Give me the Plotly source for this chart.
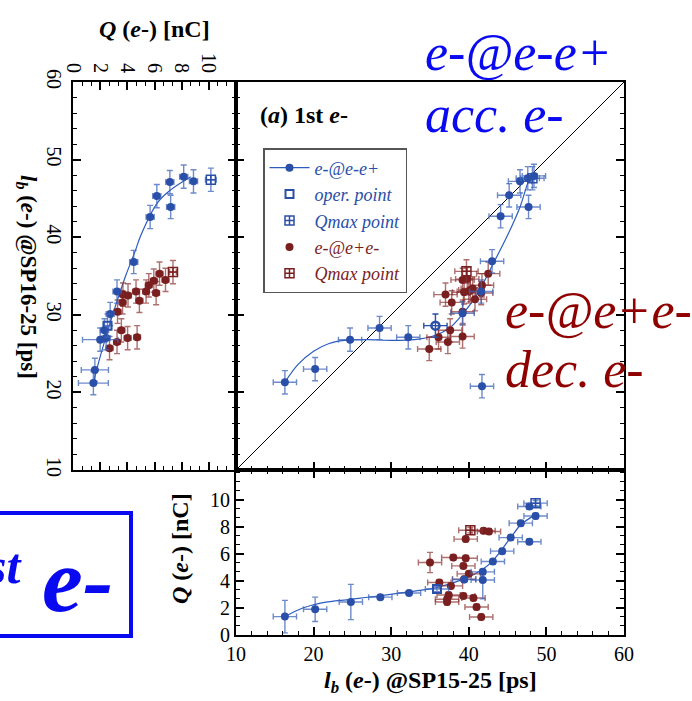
import plotly.graph_objects as go
import numpy as np

W, H = 692, 701
SERIF = "Liberation Serif"
BLUE = "#2a4fa8"
BLUE_ERR = "rgba(60,100,185,0.75)"
RED = "#7a1f1f"
RED_ERR = "rgba(140,50,50,0.7)"
BIG_BLUE = "#0a0af0"
BIG_RED = "#8f0000"

# ---------------- main panel: lb@SP15-25 (x) vs lb@SP16-25 (y) ----------------
main_blue_x = [16.3, 20.2, 24.7, 28.5, 32.2, 39.2, 41.7, 41.6, 43.0, 44.1, 45.2, 46.6, 47.6, 47.7, 48.4]
main_blue_y = [21.3, 23.0, 26.8, 28.3, 27.1, 30.2, 20.8, 33.0, 36.9, 42.7, 45.4, 47.2, 47.6, 43.9, 47.9]
main_oper_x = [35.7]
main_oper_y = [28.6]
main_bqmax_x = [48.2]
main_bqmax_y = [47.6]
main_red_x = [34.9, 36.1, 37.3, 37.6, 39.2, 39.2, 37.0, 37.8, 39.4, 40.2, 40.5, 40.8, 41.7, 42.5, 39.2, 39.8, 40.0, 41.6]
main_red_y = [25.6, 27.1, 26.5, 28.0, 27.2, 30.4, 32.6, 31.6, 32.9, 33.2, 33.4, 32.0, 33.8, 35.3, 34.5, 34.6, 33.0, 32.8]
main_rqmax_x = [39.7]
main_rqmax_y = [35.6]
main_fit_x = [16.3, 18.0, 20.0, 22.0, 24.0, 27.0, 30.0, 33.0, 35.5, 37.5, 39.2, 41.0, 43.0, 45.3, 46.6, 47.6, 48.1]
main_fit_y = [21.3, 23.6, 25.3, 26.3, 26.7, 26.8, 26.7, 26.8, 27.3, 28.3, 30.1, 32.5, 36.3, 40.9, 43.9, 47.0, 48.2]
diag = [10, 60]

# ---------------- bottom panel: lb@SP15-25 (x) vs Q (y) ----------------
bot_blue_x = [16.3, 20.2, 24.8, 28.6, 32.3, 39.4, 41.8, 41.8, 43.1, 44.3, 45.4, 46.7, 47.8, 47.8, 48.6]
bot_blue_q = [1.36, 1.9, 2.44, 2.8, 3.1, 4.1, 4.67, 4.07, 5.43, 6.2, 7.2, 8.27, 6.9, 9.5, 8.8]
bot_blue_qerr_plus = [1.2, 0.9, 1.3, 0.15, 0.15, 0.2, 0.2, 0.6, 0.2, 0.2, 0.2, 0.2, 0.2, 0.2, 0.2]
bot_blue_qerr_minus = [1.2, 0.9, 1.3, 0.15, 0.15, 0.2, 0.2, 1.4, 0.2, 0.2, 0.2, 0.2, 0.2, 0.2, 0.2]
bot_oper_x = [35.9]
bot_oper_q = [3.4]
bot_bqmax_x = [48.6]
bot_bqmax_q = [9.75]
bot_red_x = [35.0, 38.0, 39.6, 39.3, 40.0, 39.4, 37.7, 36.2, 37.4, 37.2, 37.2, 39.3, 40.6, 41.0, 41.6, 39.6, 41.9, 42.6]
bot_red_q = [5.36, 5.73, 5.68, 5.11, 4.52, 4.12, 3.63, 3.88, 2.96, 2.64, 2.44, 2.89, 2.74, 2.07, 1.33, 7.09, 7.7, 7.65]
bot_red_qerr = [0.75, 0.2, 0.2, 0.2, 0.2, 0.2, 0.2, 0.2, 0.2, 0.2, 0.2, 0.2, 0.2, 0.2, 0.2, 0.2, 0.2, 0.2]
bot_rqmax_x = [40.2]
bot_rqmax_q = [7.75]
bot_fit_x = [16.3, 18.6, 21.2, 24.8, 28.6, 32.3, 35.8, 39.4, 41.8, 43.1, 45.4, 46.7, 48.6]
bot_fit_q = [1.36, 2.0, 2.4, 2.64, 2.9, 3.2, 3.5, 4.15, 4.86, 5.5, 7.2, 8.15, 8.9]

# ---------------- left panel: Q (x) vs lb@SP16-25 (y) ----------------
left_blue_q = [5.68, 6.17, 7.13, 7.19, 8.15, 8.87, 4.47, 3.24, 2.74, 2.32, 2.0, 2.44, 1.61, 1.5]
left_blue_y = [42.6, 45.3, 47.1, 43.9, 47.8, 47.2, 36.8, 33.0, 30.1, 28.0, 26.8, 27.0, 22.9, 21.2]
left_blue_qerr = [0.3, 0.3, 0.3, 0.3, 0.3, 0.3, 0.3, 0.3, 0.3, 0.3, 1.3, 0.3, 1.0, 1.1]
left_oper_q = [2.54]
left_oper_y = [28.6]
left_bqmax_q = [10.15]
left_bqmax_y = [47.4]
left_red_q = [2.69, 3.24, 3.56, 4.02, 4.72, 3.28, 3.65, 3.68, 4.05, 4.64, 4.89, 5.38, 5.58, 5.95, 6.12, 6.37, 6.81]
left_red_y = [25.7, 26.5, 28.0, 27.0, 27.1, 30.4, 31.6, 32.6, 32.5, 33.0, 31.8, 33.0, 33.8, 34.4, 32.8, 35.3, 34.5]
left_rqmax_q = [7.36]
left_rqmax_y = [35.5]
left_fit_q = [1.5, 2.0, 2.5, 3.1, 3.85, 4.6, 4.96, 6.2, 7.19, 8.67]
left_fit_y = [21.2, 24.6, 27.6, 31.0, 34.9, 38.3, 40.1, 44.4, 46.1, 47.8]

LB_ERR = 1.5


def pxx(x):
    return x / W


def pxy(y):
    return 1 - y / H


fig = go.Figure()


def ebar(color, val=None, arr=None, arrm=None):
    d = dict(color=color, thickness=1.4, width=3, visible=True)
    if arr is not None:
        d["type"] = "data"
        d["array"] = arr
        d["symmetric"] = arrm is None
        if arrm is not None:
            d["arrayminus"] = arrm
    else:
        d["type"] = "constant"
        d["value"] = val
    return d


def pts(x, y, xa, ya, color, ex, ey, symbol="circle", size=8, name="",
        showlegend=False, rank=None, lw=0):
    fig.add_trace(go.Scatter(
        x=x, y=y, xaxis=xa, yaxis=ya, mode="markers", name=name,
        showlegend=showlegend, legendrank=rank if rank else 1000,
        marker=dict(symbol=symbol, size=size, color=color,
                    line=dict(color=color, width=lw)),
        error_x=ex, error_y=ey, hoverinfo="skip"))


# main panel
fig.add_trace(go.Scatter(x=diag, y=diag, xaxis="x", yaxis="y", mode="lines",
                         line=dict(color="black", width=1), showlegend=False, hoverinfo="skip"))
fig.add_trace(go.Scatter(x=main_fit_x, y=main_fit_y, xaxis="x", yaxis="y", mode="lines",
                         line=dict(color="#2d5cc0", width=1.2, shape="spline"),
                         showlegend=False, hoverinfo="skip"))
pts(main_red_x, main_red_y, "x", "y", RED, ebar(RED_ERR, LB_ERR), ebar(RED_ERR, LB_ERR))
pts(main_rqmax_x, main_rqmax_y, "x", "y", RED, ebar(RED_ERR, LB_ERR), ebar(RED_ERR, LB_ERR),
    symbol="square-cross-open", size=9, lw=1.5)
pts(main_blue_x, main_blue_y, "x", "y", BLUE, ebar(BLUE_ERR, LB_ERR), ebar(BLUE_ERR, LB_ERR))
pts(main_oper_x, main_oper_y, "x", "y", BLUE, ebar(BLUE, LB_ERR), ebar(BLUE, LB_ERR),
    symbol="circle-open", size=8, lw=2.5)
pts(main_bqmax_x, main_bqmax_y, "x", "y", BLUE, ebar(BLUE_ERR, LB_ERR), ebar(BLUE_ERR, LB_ERR),
    symbol="square-cross-open", size=9, lw=1.5)

# bottom panel
fig.add_trace(go.Scatter(x=bot_fit_x, y=bot_fit_q, xaxis="x3", yaxis="y3", mode="lines",
                         line=dict(color="#2d5cc0", width=1.2, shape="spline"),
                         showlegend=False, hoverinfo="skip"))
pts(bot_red_x, bot_red_q, "x3", "y3", RED, ebar(RED_ERR, LB_ERR), ebar(RED_ERR, arr=bot_red_qerr),
    name="<i><span style='color:%s'>e-@e+e-</span></i>" % RED, showlegend=True, rank=4)
pts(bot_rqmax_x, bot_rqmax_q, "x3", "y3", RED, ebar(RED_ERR, LB_ERR), ebar(RED_ERR, 0.2),
    symbol="square-cross-open", size=9, lw=1.5,
    name="<i><span style='color:%s'>Qmax point</span></i>" % RED, showlegend=True, rank=5)
pts(bot_blue_x, bot_blue_q, "x3", "y3", BLUE, ebar(BLUE_ERR, LB_ERR),
    ebar(BLUE_ERR, arr=bot_blue_qerr_plus, arrm=bot_blue_qerr_minus))
pts(bot_oper_x, bot_oper_q, "x3", "y3", BLUE, ebar(BLUE_ERR, LB_ERR), ebar(BLUE_ERR, 0.2),
    symbol="square-open", size=8, lw=2,
    name="<i><span style='color:%s'>oper. point</span></i>" % BLUE, showlegend=True, rank=2)
pts(bot_bqmax_x, bot_bqmax_q, "x3", "y3", BLUE, ebar(BLUE_ERR, LB_ERR), ebar(BLUE_ERR, 0.2),
    symbol="square-cross-open", size=9, lw=1.5,
    name="<i><span style='color:%s'>Qmax point</span></i>" % BLUE, showlegend=True, rank=3)

# legend entry with line + marker
fig.add_trace(go.Scatter(x=[None], y=[None], xaxis="x", yaxis="y", mode="lines+markers",
                         line=dict(color="#2d5cc0", width=1.2), marker=dict(color=BLUE, size=8),
                         name="<i><span style='color:%s'>e-@e-e+</span></i>" % BLUE,
                         showlegend=True, legendrank=1))

# left panel
fig.add_trace(go.Scatter(x=left_fit_q, y=left_fit_y, xaxis="x2", yaxis="y2", mode="lines",
                         line=dict(color="#2d5cc0", width=1.2, shape="spline"),
                         showlegend=False, hoverinfo="skip"))
pts(left_red_q, left_red_y, "x2", "y2", RED, ebar(RED_ERR, 0.25), ebar(RED_ERR, LB_ERR))
pts(left_rqmax_q, left_rqmax_y, "x2", "y2", RED, ebar(RED_ERR, 0.25), ebar(RED_ERR, LB_ERR),
    symbol="square-cross-open", size=9, lw=1.5)
pts(left_blue_q, left_blue_y, "x2", "y2", BLUE, ebar(BLUE_ERR, arr=left_blue_qerr), ebar(BLUE_ERR, LB_ERR))
pts(left_oper_q, left_oper_y, "x2", "y2", BLUE, ebar(BLUE_ERR, 0.3), ebar(BLUE_ERR, LB_ERR),
    symbol="square-open", size=8, lw=2)
pts(left_bqmax_q, left_bqmax_y, "x2", "y2", BLUE, ebar(BLUE_ERR, 0.4), ebar(BLUE_ERR, LB_ERR),
    symbol="square-cross-open", size=9, lw=1.5)

MX = [pxx(236), pxx(624)]
MY = [pxy(470), pxy(82)]
LX = [pxx(73), pxx(236)]
BY = [pxy(635), pxy(470)]

tickfont = dict(family=SERIF, size=20, color="black")
common = dict(showgrid=False, zeroline=False, showline=True, linecolor="black", linewidth=2,
              ticks="inside", tickcolor="black", tickwidth=1.5, ticklen=8, tickfont=tickfont,
              automargin=False)

q_minor = [round(v, 3) for v in np.arange(0, 12.01, 2 / 3)]
mn = dict(ticks="inside", ticklen=4, tickcolor="black", tickwidth=1)

fig.update_layout(
    width=W, height=H, margin=dict(l=0, r=0, t=0, b=0, autoexpand=False),
    paper_bgcolor="white", plot_bgcolor="white",
    font=dict(family=SERIF, color="black"),
    xaxis=dict(domain=MX, range=[10, 60], anchor="y", showticklabels=False, mirror=True,
               tickvals=[10, 20, 30, 40, 50, 60], minor=dict(dtick=2, tick0=10, **mn), **common),
    yaxis=dict(domain=MY, range=[10, 60], anchor="x", showticklabels=False, mirror="ticks",
               tickvals=[10, 20, 30, 40, 50, 60], minor=dict(dtick=2, tick0=10, **mn), **common),
    xaxis2=dict(domain=LX, range=[0, 12], anchor="y2", side="top", mirror="ticks", tickangle=90,
                tickvals=[0, 2, 4, 6, 8, 10], minor=dict(tickvals=q_minor, **mn), **common),
    yaxis2=dict(domain=MY, range=[10, 60], anchor="x2", mirror="ticks", tickangle=90,
                tickvals=[10, 20, 30, 40, 50, 60], minor=dict(dtick=2, tick0=10, **mn), **common),
    xaxis3=dict(domain=MX, range=[10, 60], anchor="y3", mirror="ticks",
                tickvals=[10, 20, 30, 40, 50, 60], minor=dict(dtick=2, tick0=10, **mn), **common),
    yaxis3=dict(domain=BY, range=[0, 12.2], anchor="x3", mirror="ticks",
                tickvals=[0, 2, 4, 6, 8, 10], minor=dict(tickvals=q_minor, **mn), **common),
    legend=dict(x=pxx(263), y=pxy(148), xanchor="left", yanchor="top", bgcolor="white",
                bordercolor="#555555", borderwidth=1.5,
                font=dict(family=SERIF, size=18), tracegroupgap=0, itemwidth=40),
    showlegend=True,
)

ann = []


def add_text(text, x, y, size, color="black", angle=0, xanchor="center", yanchor="middle", family=SERIF):
    ann.append(dict(text=text, x=pxx(x), y=pxy(y), xref="paper", yref="paper", showarrow=False,
                    font=dict(family=family, size=size, color=color), textangle=angle,
                    xanchor=xanchor, yanchor=yanchor))


add_text("<b><i>Q</i> (<i>e</i>-) [nC]</b>", 154, 29, 24)
add_text("<b><i>l</i><sub><i>b</i></sub> (<i>e</i>-) @SP16-25 [ps]</b>", 27, 277, 23, angle=90)
add_text("<b><i>l</i><sub><i>b</i></sub> (<i>e</i>-) @SP15-25 [ps]</b>", 430, 682, 24)
add_text("<b><i>Q</i> (<i>e</i>-) [nC]</b>", 180, 549, 24, angle=-90)
add_text("<b>(<i>a</i>) 1st <i>e</i>-</b>", 258, 115, 24, xanchor="left")
add_text("<i>e-@e-e+</i>", 423, 53, 52, color=BIG_BLUE, xanchor="left")
add_text("<i>acc. e-</i>", 423, 115, 52, color=BIG_BLUE, xanchor="left")
add_text("<i>e-@e+e-</i>", 503, 310, 52, color=BIG_RED, xanchor="left")
add_text("<i>dec. e-</i>", 503, 370, 52, color=BIG_RED, xanchor="left")
add_text("<b><i>1st</i></b>", 24, 566, 50, color=BIG_BLUE, xanchor="right")
add_text("<b><i>e-</i></b>", 77, 580, 92, color=BIG_BLUE)

fig.update_layout(annotations=ann)
fig.add_shape(type="rect", xref="paper", yref="paper", x0=pxx(-20), x1=pxx(131), y0=pxy(636), y1=pxy(513),
              line=dict(color=BIG_BLUE, width=4), layer="above")

fig.write_html("out.html", config={"displayModeBar": False},
               post_script="document.body.style.margin='0';document.body.style.overflow='hidden';")
